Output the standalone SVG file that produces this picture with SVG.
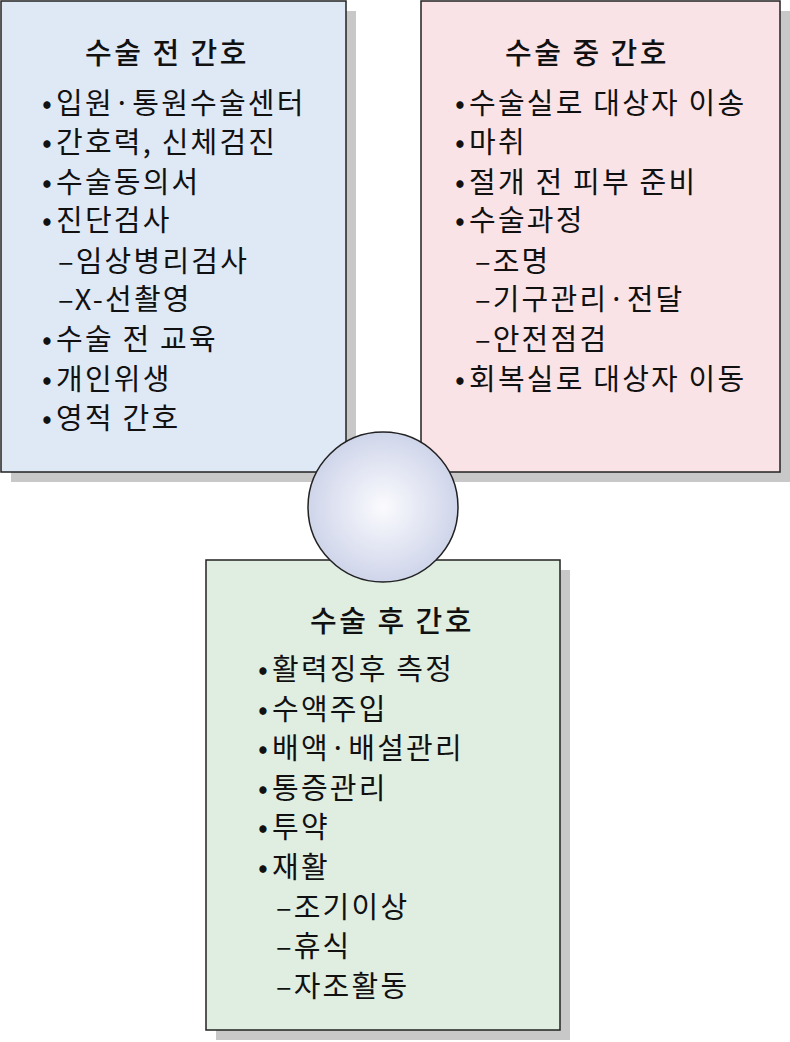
<svg xmlns="http://www.w3.org/2000/svg" width="790" height="1042" viewBox="0 0 790 1042">
<style>
text{font-family:"Noto Sans CJK KR","Noto Sans",sans-serif;font-size:29px;letter-spacing:2.2px;fill:#111}
.t{font-size:29px;font-weight:500;letter-spacing:2.5px}
.sh{fill:#c8c8c8}
.b{stroke:#222;stroke-width:1.5}
</style>
<defs><radialGradient id="g" cx="0.5" cy="0.5" r="0.5"><stop offset="0" stop-color="#fbfbfe"/><stop offset="1" stop-color="#cfd5ea"/></radialGradient></defs>
<rect fill="#fff" width="790" height="1042"/>
<g id="pre">
<rect class="sh" x="11" y="11" width="345" height="471"/>
<rect class="b" x="1" y="1" width="345" height="471" fill="#dfe8f5"/>
<text class="t" x="85" y="64">수술 전 간호</text>
<text x="42" y="114">•<tspan dx="2">입원·통원수술센터</tspan></text>
<text x="42" y="153">•<tspan dx="2">간호력, 신체검진</tspan></text>
<text x="42" y="193">•<tspan dx="2">수술동의서</tspan></text>
<text x="42" y="231">•<tspan dx="2">진단검사</tspan></text>
<text x="58" y="272">–임상병리검사</text>
<text x="58" y="310">–X-선촬영</text>
<text x="42" y="350">•<tspan dx="2">수술 전 교육</tspan></text>
<text x="42" y="390">•<tspan dx="2">개인위생</tspan></text>
<text x="42" y="429">•<tspan dx="2">영적 간호</tspan></text>
</g>
<g id="intra">
<rect class="sh" x="431" y="11" width="359" height="471"/>
<rect class="b" x="421" y="1" width="359" height="471" fill="#fae3e6"/>
<text class="t" x="505" y="64">수술 중 간호</text>
<text x="455" y="114">•<tspan dx="2">수술실로 대상자 이송</tspan></text>
<text x="455" y="153">•<tspan dx="2">마취</tspan></text>
<text x="455" y="193">•<tspan dx="2">절개 전 피부 준비</tspan></text>
<text x="455" y="231">•<tspan dx="2">수술과정</tspan></text>
<text x="475" y="272">–조명</text>
<text x="475" y="310">–기구관리·전달</text>
<text x="475" y="350">–안전점검</text>
<text x="455" y="390">•<tspan dx="2">회복실로 대상자 이동</tspan></text>
</g>
<g id="post">
<rect class="sh" x="216" y="570" width="354" height="470"/>
<rect class="b" x="206" y="560" width="354" height="470" fill="#e0ede1"/>
<text class="t" x="310" y="632">수술 후 간호</text>
<text x="258" y="680">•<tspan dx="2">활력징후 측정</tspan></text>
<text x="258" y="720">•<tspan dx="2">수액주입</tspan></text>
<text x="258" y="759">•<tspan dx="2">배액·배설관리</tspan></text>
<text x="258" y="799">•<tspan dx="2">통증관리</tspan></text>
<text x="258" y="838">•<tspan dx="2">투약</tspan></text>
<text x="258" y="878">•<tspan dx="2">재활</tspan></text>
<text x="276" y="918">–조기이상</text>
<text x="276" y="957">–휴식</text>
<text x="276" y="997">–자조활동</text>
</g>
<g id="center">
<circle cx="383" cy="507" r="75" fill="url(#g)" stroke="#222" stroke-width="1.5"/>
</g>
<g id="connectors"/>
</svg>
